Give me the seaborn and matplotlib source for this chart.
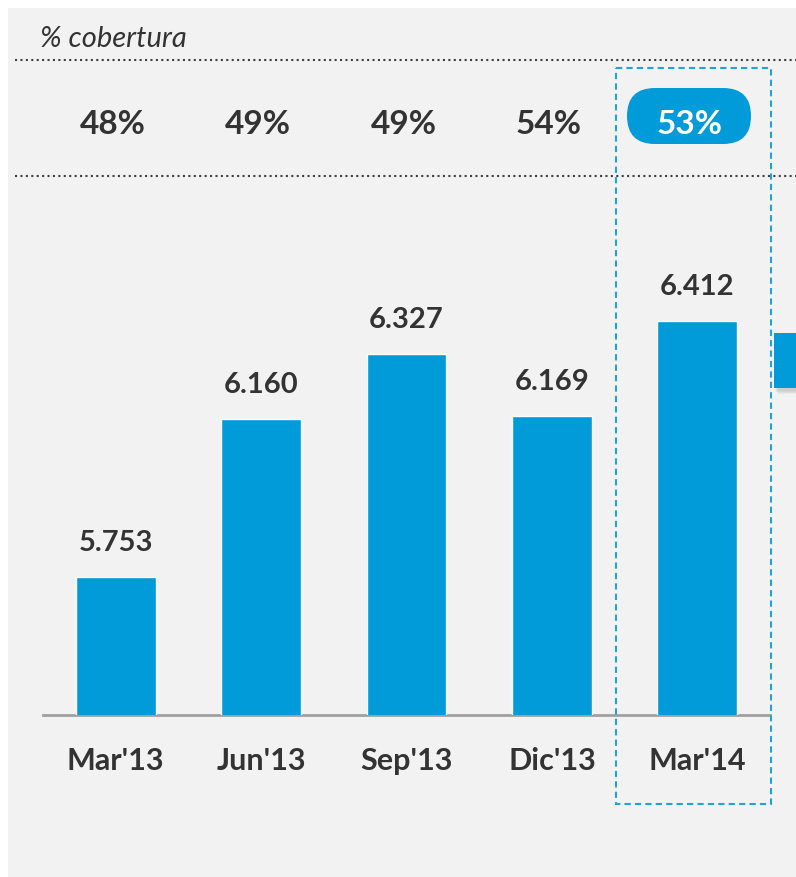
import matplotlib
matplotlib.use("Agg")
import matplotlib.pyplot as plt
import matplotlib.transforms as mtransforms
from matplotlib.patches import Rectangle, FancyBboxPatch
from matplotlib.lines import Line2D
import seaborn as sns

periods = ["Mar'13", "Jun'13", "Sep'13", "Dic'13", "Mar'14"]
balances = [5753, 6160, 6327, 6169, 6412]
coverage = [48, 49, 49, 54, 53]

BLUE = "#009bd8"
DARK = "#333333"
PANEL = "#f2f2f2"

sns.set_style("white")
plt.rcParams["font.family"] = ["Lato", "DejaVu Sans"]

W, H = 796, 878
fig = plt.figure(figsize=(W / 100, H / 100), dpi=100)
fig.patch.set_facecolor("white")

# pixel transform, origin top-left
px = mtransforms.Affine2D().scale(1, -1).translate(0, H).scale(1 / W, 1 / H) + fig.transFigure

fig.patches.append(Rectangle((8, 9), W - 8, H - 9, transform=px, facecolor=PANEL,
                             edgecolor="none", zorder=-2))

ax = fig.add_axes([43 / W, 1 - 716 / H, 727 / W, (716 - 180) / H])
ax.set_facecolor("none")

sns.barplot(x=periods, y=balances, color=BLUE, saturation=1, width=0.55, ax=ax, zorder=3)
ax.set_xlim(-0.5, 4.5)
ax.set_ylim(5398, 6778)
ax.set_xlabel("")
ax.set_ylabel("")
ax.set_yticks([])
for side in ["top", "left", "right"]:
    ax.spines[side].set_visible(False)
ax.spines["bottom"].set_color("#a0a0a0")
ax.spines["bottom"].set_linewidth(2)
ax.tick_params(axis="x", length=0, pad=22, labelsize=22, labelcolor=DARK)
for lbl in ax.get_xticklabels():
    lbl.set_fontweight("bold")

for i, v in enumerate(balances):
    ax.annotate(f"{v:,}".replace(",", "."), (i, v), xytext=(0, 25), textcoords="offset points",
                ha="center", va="center", fontsize=21, fontweight="bold", color=DARK)

# coverage row
row = mtransforms.blended_transform_factory(ax.transData, fig.transFigure)
for i, c in enumerate(coverage):
    last = i == len(coverage) - 1
    ax.text(i - (0.05 if last else 0.02), 1 - 124 / H, f"{c}%", transform=row, ha="center",
            va="center", fontsize=24, fontweight="bold", color="white" if last else DARK,
            zorder=5, clip_on=False)

fig.patches.append(FancyBboxPatch((627, 89), 124, 56, transform=px,
                                  boxstyle="round,pad=0,rounding_size=28",
                                  facecolor=BLUE, edgecolor="none", zorder=-1))

fig.text(40 / W, 1 - 39 / H, "% cobertura", ha="left", va="center", fontsize=21,
         style="italic", color=DARK)

for y in (61, 177):
    fig.lines.append(Line2D([15, W], [y, y], transform=px, color="#404040", lw=1.5,
                            linestyle=(0, (1, 1.6)), zorder=-1))

# highlight frame around last period
fig.patches.append(Rectangle((616, 69), 155, 736, transform=px, fill=False,
                             edgecolor="#1ea3dd", lw=1.5, linestyle=(0, (3, 2)), zorder=6))

# cut-off element at right edge (soft shadow + block)
for k in range(4):
    fig.patches.append(Rectangle((775 + k, 336 + k), 22, 56, transform=px,
                                 facecolor="#777777", alpha=0.08, edgecolor="none", zorder=-1))
fig.patches.append(Rectangle((774, 334), 22, 55, transform=px, facecolor=BLUE,
                             edgecolor="none", zorder=-0.5))

fig.savefig("out.png", dpi=100)
